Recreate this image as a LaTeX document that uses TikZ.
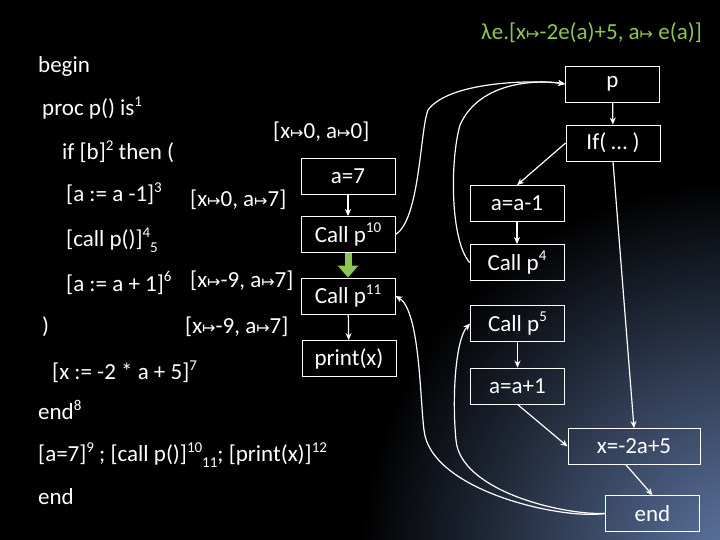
\documentclass[tikz,border=0pt]{standalone}
\usepackage{fontspec}
\setmainfont{Carlito}
\newfontfamily\symf{DejaVu Sans}
\usetikzlibrary{arrows.meta}
\newcommand{\mt}{{\symf\fontsize{16}{16}\selectfont ↦}}
\newcommand{\su}[1]{\raisebox{0.4em}{\fontsize{15}{15}\selectfont #1}}
\newcommand{\sd}[1]{\raisebox{-0.25em}{\fontsize{15}{15}\selectfont #1}}
\definecolor{lgreen}{RGB}{140,200,80}
\begin{document}
\begin{tikzpicture}[x=1pt,y=1pt,
  box/.style={draw=white,line width=0.8pt,minimum width=94pt,minimum height=36pt,text=white,font=\fontsize{23}{23}\selectfont,inner sep=0pt},
  txt/.style={anchor=west,text=white,font=\fontsize{23}{23}\selectfont,inner sep=0pt},
  ar/.style={white,line width=1.2pt,-{Stealth[length=7pt,width=6pt]}}]
\fill[black] (0,0) rectangle (720,-540);
\begin{scope}
\clip (0,0) rectangle (720,-540);
\shade[inner color={rgb,255:red,95;green,120;blue,165},outer color=black] (740,-560) circle (380);
\end{scope}
\useasboundingbox (0,0) rectangle (720,-540);
\node[anchor=east,text=lgreen,font=\fontsize{23}{23}\selectfont,inner sep=0pt] (lam) at (702,-33) {λe.[x\mt-2e(a)+5, a\mt\ e(a)]};
% left text
\node[txt] (t1) at (38,-66) {begin};
\node[txt] (t2) at (42,-108) {proc p() is\su{1}};
\node[txt] (t3) at (62,-152) {if [b]\su{2}\ then (};
\node[txt] (t4) at (66,-194) {[a := a -1]\su{3}};
\node[txt] (t5) at (66,-240) {[call p()]\su{4}\sd{5}};
\node[txt] (t6) at (66,-283) {[a := a + 1]\su{6}};
\node[txt] (t7) at (42,-327) {)};
\node[txt] (t8) at (52,-372) {[x := -2 * a + 5]\su{7}};
\node[txt] (t9) at (38,-410) {end\su{8}};
\node[txt] (t10) at (38,-455) {[a=7]\su{9} ; [call p()]\su{10}\sd{11}; [print(x)]\su{12}};
\node[txt] (t11) at (38,-497) {end};
\node[txt] (e1) at (273,-132) {[x\mt0, a\mt0]};
\node[txt] (e2) at (190,-200) {[x\mt0, a\mt7]};
\node[txt] (e3) at (190,-281) {[x\mt-9, a\mt7]};
\node[txt] (e4) at (185,-327) {[x\mt-9, a\mt7]};
% boxes
\node[box] (p) at (612.5,-84) {p};
\node[box] (if) at (613,-143) {If( \dots\ )};
\node[box] (a7) at (348,-176) {a=7};
\node[box] (c10) at (348,-234.5) {Call p\su{10}};
\node[box] (c11) at (348,-296) {Call p\su{11}};
\node[box] (pr) at (349,-358.5) {print(x)};
\node[box] (am) at (517,-203.5) {a=a-1};
\node[box] (c4) at (517,-262.5) {Call p\su{4}};
\node[box] (c5) at (517.5,-323.5) {Call p\su{5}};
\node[box] (ap) at (517.5,-386) {a=a+1};
\node[box,minimum width=132pt] (x) at (634,-446.5) {x=-2a+5};
\node[box] (en) at (652.5,-513.5) {end};
% edges
\draw[ar] (p) -- (if);
\draw[ar] (a7) -- (c10);
\draw[ar] (c11) -- (pr);
\draw[ar] (am) -- (c4);
\draw[ar] (c5) -- (ap);
\draw[ar] (if.west) -- (am.north);
\draw[ar] (if.south) -- (x.north);
\draw[ar] (ap.south) -- (x.west);
\draw[ar] ([xshift=-8pt]x.south) -- (en.north);
\draw[ar] (c10.east) .. controls (420,-220) and (420,-130) .. (428,-110) .. controls (450,-80) and (540,-80) .. (p.west);
\draw[ar] (c4.west) .. controls (450,-240) and (450,-160) .. (460,-125) .. controls (480,-80) and (540,-80) .. (p.west);
\draw[ar] (en.west) .. controls (560,-520) and (430,-490) .. (424,-430) .. controls (420,-400) and (420,-310) .. (c11.east);
\draw[ar] (en.west) .. controls (560,-515) and (460,-490) .. (456,-440) .. controls (452,-400) and (455,-340) .. (c5.west);
\draw[lgreen,line width=7pt,-{Triangle[length=12pt,width=20pt]}] (c10.south) -- (c11.north);
\end{tikzpicture}
\end{document}
